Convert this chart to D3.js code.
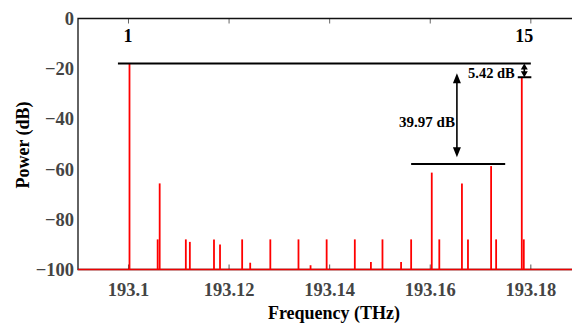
<!DOCTYPE html>
<html>
<head>
<meta charset="utf-8">
<script src="https://cdn.jsdelivr.net/npm/d3@7"></script>
<style>
  body { margin: 0; background: #fff; }
  svg { display: block; }
</style>
</head>
<body>
<div id="chart"></div>
<script>
// spectrum peaks (THz, dB)
var peakFreqs = [193.1003, 193.1059, 193.1063, 193.1115, 193.1123, 193.1171, 193.1183,
  193.1227, 193.1243, 193.1283, 193.1339, 193.1363, 193.1395, 193.1451, 193.1483,
  193.1506, 193.1543, 193.1563, 193.1604, 193.1619, 193.1664, 193.1676, 193.1722,
  193.1732, 193.1783, 193.1787]
var peakPowers = [-17.9, -88, -65.7, -88, -89, -88, -90,
  -88, -97.3, -88, -88, -98.3, -88, -88, -97,
  -88, -97, -88, -61.4, -88, -65.7, -88, -58.8,
  -88, -23.4, -88]

var xTicks = [193.1, 193.12, 193.14, 193.16, 193.18]
var xTickLabels = ['193.1', '193.12', '193.14', '193.16', '193.18']
var yTicks = [0, -20, -40, -60, -80, -100]

// channel labels
var chanFreqs = [193.1, 193.1788]
var chanLabels = ['1', '15']

// annotation lines (THz from, THz to, dB)
var refFrom = [193.098, 193.1563, 193.1775]
var refTo = [193.1801, 193.175, 193.1802]
var refPower = [-17.9, -57.97, -23.4]

var width = 572, height = 324
var margin = { top: 18.5, left: 78, bottom: 54.5 }
var serif = '"Liberation Serif", "Times New Roman", Times, serif'

var x = d3.scaleLinear()
  .domain([193.09006, 193.18908])
  .range([margin.left, 576])

var y = d3.scaleLinear()
  .domain([-100, 0])
  .range([height - margin.bottom, margin.top])

var svg = d3.select('#chart').append('svg')
  .attr('width', width)
  .attr('height', height)

// top ticks
svg.append('g')
  .attr('transform', 'translate(0,' + y(0) + ')')
  .call(d3.axisTop(x).tickValues(xTicks).tickSizeInner(-5).tickSizeOuter(0).tickFormat(''))
  .call(g => g.select('.domain').remove())
  .call(g => g.selectAll('line').attr('stroke', '#666'))

// bottom axis
var xAxis = svg.append('g')
  .attr('transform', 'translate(0,' + y(-100) + ')')
  .call(d3.axisBottom(x).tickValues(xTicks).tickSizeInner(-5).tickSizeOuter(0)
    .tickPadding(13).tickFormat((d, i) => xTickLabels[i]))
xAxis.select('.domain').remove()
xAxis.selectAll('line').attr('stroke', '#555')
xAxis.selectAll('text').attr('fill', '#444').attr('font-size', 18.5)

// left axis
var yAxis = svg.append('g')
  .attr('transform', 'translate(' + margin.left + ',0)')
  .call(d3.axisLeft(y).tickValues(yTicks).tickSize(0).tickPadding(4))
yAxis.select('.domain').remove()
yAxis.selectAll('text').attr('fill', '#444').attr('font-size', 18.5)

// frame
svg.append('path')
  .attr('d', 'M' + width + ',' + y(0) + 'H' + margin.left + 'V' + y(-100) + 'H' + width)
  .attr('fill', 'none')
  .attr('stroke', '#111')
  .attr('stroke-width', 1.3)

// spectrum baseline + peaks
svg.append('line')
  .attr('x1', margin.left).attr('x2', width)
  .attr('y1', y(-100)).attr('y2', y(-100))
  .attr('stroke', '#e00').attr('stroke-width', 1.6)

svg.selectAll('.peak')
  .data(peakFreqs)
  .enter()
    .append('line')
    .attr('class', 'peak')
    .attr('x1', d => x(d)).attr('x2', d => x(d))
    .attr('y1', y(-100))
    .attr('y2', (d, i) => y(peakPowers[i]))
    .attr('stroke', '#ff0000')
    .attr('stroke-width', 1.8)

// reference lines
svg.selectAll('.ref')
  .data(refPower)
  .enter()
    .append('line')
    .attr('x1', (d, i) => x(refFrom[i]))
    .attr('x2', (d, i) => x(refTo[i]))
    .attr('y1', d => y(d)).attr('y2', d => y(d))
    .attr('stroke', '#000')
    .attr('stroke-width', 2)

function arrow(f, p0, p1, headLen, headW) {
  var ax = x(f), ya = y(p0), yb = y(p1)
  svg.append('line')
    .attr('x1', ax).attr('x2', ax)
    .attr('y1', ya + headLen - 1).attr('y2', yb - headLen + 1)
    .attr('stroke', '#000').attr('stroke-width', 1.6)
  svg.append('path')
    .attr('d', 'M' + ax + ',' + ya + 'L' + (ax - headW / 2) + ',' + (ya + headLen) + 'L' + (ax + headW / 2) + ',' + (ya + headLen) + 'Z'
      + 'M' + ax + ',' + yb + 'L' + (ax - headW / 2) + ',' + (yb - headLen) + 'L' + (ax + headW / 2) + ',' + (yb - headLen) + 'Z')
    .attr('fill', '#000')
}
arrow(193.1654, -21.8, -55.3, 10, 8)
arrow(193.1788, -17.9, -23.4, 6, 7)

svg.append('text')
  .attr('x', x(193.1654) - 2).attr('y', 127)
  .attr('text-anchor', 'end')
  .attr('font-size', 15)
  .text('39.97 dB')

svg.append('text')
  .attr('x', 468).attr('y', 77.5)
  .attr('font-size', 14.5)
  .text('5.42 dB')

svg.selectAll('.chan')
  .data(chanFreqs)
  .enter()
    .append('text')
    .attr('x', d => x(d)).attr('y', 41.5)
    .attr('text-anchor', 'middle')
    .attr('font-size', 18)
    .text((d, i) => chanLabels[i])

// axis titles
svg.append('text')
  .attr('x', 334).attr('y', 319)
  .attr('text-anchor', 'middle')
  .attr('font-size', 18)
  .text('Frequency (THz)')

svg.append('text')
  .attr('transform', 'translate(29,' + 145 + ') rotate(-90)')
  .attr('text-anchor', 'middle')
  .attr('font-size', 18)
  .text('Power (dB)')

// same serif bold everywhere
svg.selectAll('text')
  .style('font-family', serif)
  .style('font-weight', 'bold')
</script>
</body>
</html>
